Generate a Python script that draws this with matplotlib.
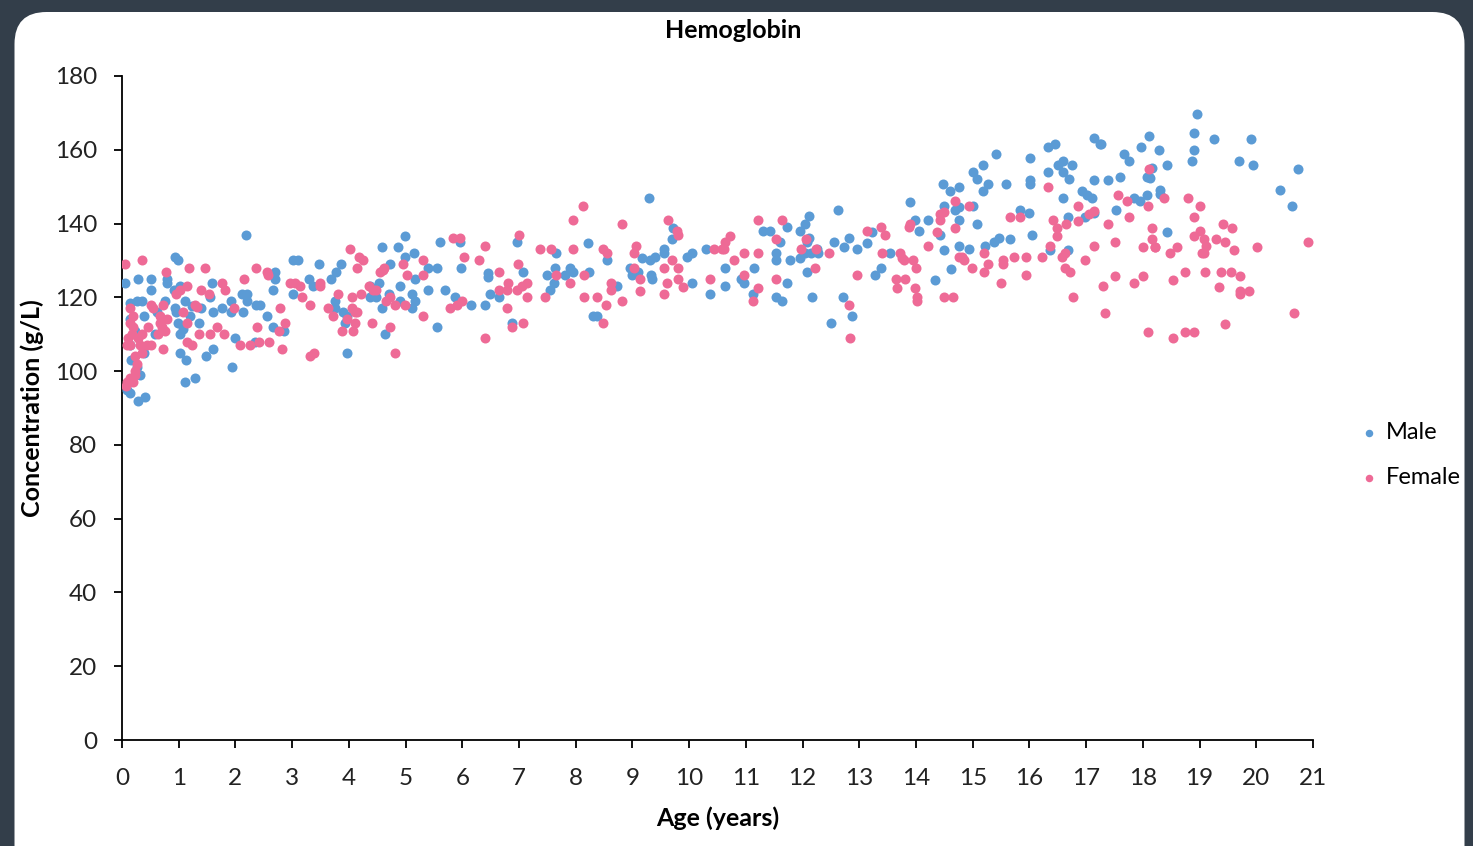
import matplotlib
matplotlib.use("Agg")
import matplotlib.pyplot as plt
from matplotlib.patches import FancyBboxPatch

plt.rcParams['font.family'] = ['Lato', 'DejaVu Sans']

# Hemoglobin readings (age in years, concentration in g/L)
male = [
    (2.19, 137), (0.94, 131), (0.99, 130), (0.05, 124), (0.28, 125), (0.52, 125), (0.79, 125), (0.8, 124),
    (0.51, 122), (0.92, 122), (1.02, 123), (1.59, 124), (3.02, 130), (3.11, 130), (3.48, 129), (3.29, 125),
    (3.36, 123), (3.02, 121), (0.14, 118.5), (0.26, 119), (0.35, 119), (0.39, 115), (0.61, 116), (0.76, 119),
    (0.94, 117), (0.96, 116), (1.11, 119), (1.23, 117.6), (1.2, 115), (0.99, 113), (1.08, 111.5), (1.02, 110),
    (1.35, 113), (1.4, 117), (1.55, 120), (1.61, 116), (1.76, 117), (1.93, 116), (1.93, 119), (2.11, 121),
    (2.2, 121), (2.14, 116), (2.2, 119), (2.37, 118), (2.43, 118), (2.55, 115), (2.66, 112), (2.7, 127),
    (2.7, 125), (2.67, 122), (0.14, 114), (0.14, 107), (0.23, 111), (0.38, 105), (0.58, 110), (0.16, 103),
    (0.26, 101), (0.32, 99), (0.08, 95), (0.14, 94), (0.28, 92), (0.41, 93), (1.02, 105), (1.13, 103),
    (1.11, 97), (1.29, 98), (1.48, 104), (1.61, 106), (1.94, 101), (1.99, 109), (2.35, 108), (2.85, 111),
    (4.99, 136.6), (4.58, 133.7), (4.87, 133.7), (5.14, 132), (4.99, 131), (4.72, 129), (5.61, 135), (5.96, 135),
    (5.55, 128), (5.40, 128), (5.97, 128), (6.46, 126.5), (6.46, 125.6), (6.96, 135), (3.77, 127), (3.86, 129),
    (3.68, 125), (4.37, 123), (4.54, 124), (4.9, 123), (5.17, 125), (4.71, 121), (4.37, 120), (4.48, 120),
    (4.91, 119), (5.12, 121), (5.17, 119), (5.12, 117), (5.39, 122), (5.70, 122), (5.87, 120), (6.15, 118),
    (6.4, 118), (6.49, 121), (6.64, 120), (3.76, 119), (3.76, 117), (3.9, 116), (3.96, 115), (3.93, 113),
    (4.58, 117), (4.64, 110), (3.97, 105), (5.55, 112), (6.87, 113),
    (9.29, 146.8), (8.22, 134.8), (9.71, 138.7), (9.69, 135.8), (7.65, 132), (7.07, 127), (7.49, 126), (7.64, 128),
    (7.62, 124), (7.54, 122), (7.81, 126), (7.9, 128), (7.96, 127), (8.24, 127), (8.56, 130), (8.73, 123),
    (8.95, 128), (9.0, 126), (9.1, 127), (9.16, 130.6), (9.31, 130), (9.4, 131), (9.56, 133), (9.56, 132),
    (9.32, 126), (9.35, 125), (9.96, 131), (10.05, 132), (10.3, 133), (10.05, 124), (10.37, 121), (8.31, 115),
    (8.37, 115),
    (13.9, 145.9), (12.63, 143.8), (12.11, 142), (12.04, 140), (11.95, 138), (11.31, 138), (11.42, 138), (11.72, 139),
    (11.61, 135), (12.12, 136), (12.07, 135), (12.55, 135), (12.81, 136), (12.73, 133.7), (12.96, 133), (13.13, 134.6),
    (13.22, 137.8), (13.98, 141), (14.06, 138), (13.54, 132), (13.38, 128), (13.28, 126), (12.14, 132), (12.25, 133),
    (12.28, 132), (11.95, 130.6), (12.04, 132), (11.53, 132), (11.53, 130), (11.78, 130), (12.07, 127), (10.64, 128),
    (11.15, 128), (10.91, 125), (10.97, 124), (11.73, 124), (10.64, 123), (11.12, 121), (11.53, 120), (11.63, 119),
    (12.16, 120), (12.72, 120), (12.87, 115), (12.5, 113),
    (17.13, 163.1), (17.24, 161.7), (17.27, 161.5), (16.33, 160.8), (16.45, 161.5), (15.41, 158.8), (16.01, 157.9),
    (15.18, 155.9), (15.0, 153.9), (15.08, 152.1), (16.59, 157), (16.5, 155.9), (16.75, 155.9), (16.33, 153.9),
    (16.6, 153.9), (16.69, 152.1), (14.48, 150.7), (14.6, 148.9), (14.75, 149.8), (15.27, 150.7), (15.18, 148.9),
    (15.59, 150.7), (16.01, 151.8), (16.01, 150.7), (17.13, 151.8), (17.38, 151.8), (16.92, 148.9), (17.01, 147.7),
    (17.1, 146.8), (16.59, 146.8), (14.5, 144.7), (14.69, 143.8), (14.75, 144.5), (15.0, 144.7), (15.84, 143.8),
    (16.0, 142.9), (14.22, 141), (14.75, 141), (15.08, 140), (14.43, 137), (16.68, 141.8), (16.98, 141.8),
    (17.13, 142.9), (16.05, 137), (15.66, 135.7), (15.46, 136), (15.37, 135), (15.22, 134), (14.75, 134),
    (14.93, 133), (14.5, 132.8), (16.68, 132.8), (16.37, 132.8), (14.61, 127.8), (14.34, 124.7),
    (18.96, 169.7), (18.9, 164.6), (18.11, 163.8), (19.25, 162.8), (19.91, 162.8), (17.97, 160.8), (18.28, 159.9),
    (18.9, 159.9), (17.67, 158.9), (17.76, 157), (18.42, 155.9), (18.86, 157), (19.69, 157), (19.95, 155.8),
    (20.74, 154.9), (17.59, 152.7), (18.07, 152.7), (18.13, 152.3), (18.16, 155), (18.11, 152.5), (18.31, 149),
    (18.31, 148), (20.41, 149), (20.63, 144.7), (18.07, 147.7), (17.84, 147), (17.95, 146), (17.53, 143.8),
    (18.42, 137.7),
]

female = [
    (0.05, 129), (0.35, 130), (0.78, 127), (1.18, 128), (1.46, 128), (0.95, 121), (1.02, 122), (1.14, 123),
    (1.39, 122), (1.53, 121), (1.77, 124), (1.82, 122), (2.15, 125), (2.36, 128), (2.55, 127), (2.58, 126),
    (2.96, 124), (3.05, 124), (3.14, 123), (3.18, 120), (3.32, 118), (3.49, 123), (3.32, 104), (3.39, 105),
    (1.29, 118), (1.33, 117.5), (0.52, 118), (0.55, 117), (1.07, 116), (0.73, 118), (0.67, 115), (1.98, 117),
    (2.79, 117), (2.87, 113), (2.76, 111), (2.38, 112), (1.67, 112), (1.79, 110), (1.55, 110), (1.35, 110),
    (1.14, 108), (1.23, 107), (1.14, 113), (0.7, 112), (0.76, 111), (0.64, 110), (0.79, 114), (0.67, 113),
    (0.46, 112), (0.52, 107), (0.44, 107), (0.14, 117), (0.2, 115), (0.14, 113), (0.2, 112), (0.17, 110),
    (0.11, 109), (0.29, 109), (0.35, 110), (0.32, 107), (0.08, 107), (0.14, 107), (0.23, 104), (0.35, 105),
    (0.26, 102), (0.23, 100), (0.14, 98), (0.08, 97), (0.07, 96), (0.2, 97), (0.23, 99), (0.73, 106),
    (2.08, 107), (2.26, 107), (2.42, 108), (2.6, 108), (2.82, 106),
    (4.02, 133), (4.18, 131), (4.25, 130), (4.14, 128), (4.6, 127.5), (4.62, 128), (4.55, 127), (4.95, 129),
    (5.3, 130), (5.02, 126), (5.3, 126), (5.83, 136), (5.96, 136), (6.03, 131), (6.4, 134), (6.3, 130),
    (6.64, 127), (6.81, 124), (6.65, 122), (6.78, 122), (6.96, 122), (7.0, 137), (6.99, 129), (3.49, 124),
    (3.81, 121), (4.05, 120), (4.21, 121), (4.36, 123), (4.43, 122), (4.48, 122), (4.65, 119), (4.72, 120),
    (4.81, 118), (4.99, 118), (3.64, 117), (3.72, 115), (4.05, 117), (4.11, 116), (4.15, 116), (3.96, 114),
    (4.11, 113), (3.88, 111), (4.07, 111), (4.4, 113), (4.72, 112), (5.3, 115), (5.78, 117), (5.9, 118),
    (5.99, 119), (6.78, 117), (6.87, 112), (6.4, 109), (4.81, 105),
    (8.12, 144.8), (7.95, 141), (8.81, 140), (9.63, 141), (9.78, 138), (9.81, 137), (7.37, 133), (7.56, 133),
    (7.95, 133), (8.48, 133), (8.56, 132), (9.06, 134), (9.03, 132), (9.69, 130), (9.56, 128), (9.81, 128),
    (7.65, 126), (8.15, 126), (7.9, 124), (9.03, 128), (8.63, 124), (8.63, 122), (9.13, 125), (9.61, 124),
    (9.81, 125), (9.89, 122.8), (10.37, 125), (10.44, 133), (7.05, 123), (7.14, 124), (7.14, 120), (7.46, 120),
    (9.13, 121.7), (9.56, 121), (8.15, 120), (8.38, 120), (8.53, 118), (8.81, 119), (8.48, 113), (7.07, 113),
    (11.22, 141), (11.63, 141), (11.54, 135.8), (12.06, 135.8), (11.98, 133), (12.23, 133), (12.47, 132),
    (13.13, 138), (13.38, 139), (13.45, 137), (13.9, 140), (13.88, 139), (10.72, 136.5), (10.63, 135),
    (10.58, 133), (10.62, 133), (10.96, 132), (11.22, 132), (10.79, 130), (13.4, 132), (13.72, 132),
    (13.75, 130.6), (13.78, 130), (13.95, 130), (14.0, 128), (12.22, 128), (12.96, 126), (13.65, 125),
    (13.81, 125), (10.97, 126), (11.53, 125), (11.21, 122.6), (11.13, 119), (13.67, 122.6), (13.98, 122.6),
    (14.01, 120), (14.02, 119), (12.81, 118), (12.83, 109),
    (16.33, 150), (14.68, 146), (14.93, 144.7), (14.43, 142.6), (14.49, 143), (14.42, 141), (14.37, 137.7),
    (14.68, 138.7), (15.66, 141.7), (15.84, 141.7), (16.85, 144.7), (17.05, 142.6), (17.13, 143.5), (16.41, 141),
    (16.48, 138.7), (16.48, 136.6), (16.64, 140), (16.85, 140.8), (16.37, 134), (17.39, 140), (14.22, 134),
    (14.75, 131), (14.84, 130), (14.81, 131), (14.99, 128), (15.2, 132), (15.27, 129), (15.2, 127), (15.53, 130),
    (15.53, 129), (15.73, 131), (15.94, 131), (16.22, 131), (15.49, 124), (15.94, 126), (16.62, 132),
    (16.58, 131), (16.63, 128), (16.72, 127), (16.98, 130), (17.13, 133.8), (14.5, 120), (14.66, 120),
    (16.76, 120), (17.3, 123), (17.34, 115.8),
    (18.1, 154.9), (17.57, 147.7), (17.72, 146), (18.09, 144.7), (18.37, 146.8), (18.79, 146.8), (19.0, 144.7),
    (18.9, 141.8), (17.76, 141.8), (18.16, 138.9), (18.16, 135.8), (18.21, 133.7), (19.0, 138), (18.9, 136.7),
    (19.07, 135.8), (19.11, 133.9), (19.04, 131.9), (19.07, 131.9), (19.41, 139.9), (19.58, 138.9),
    (19.29, 135.8), (19.44, 134.9), (19.6, 132.8), (17.51, 134.9), (18.01, 133.7), (18.22, 133.7),
    (18.61, 133.7), (18.47, 131.9), (20.02, 133.7), (20.91, 134.9), (17.51, 125.9), (18.01, 125.9),
    (17.84, 123.8), (18.54, 124.7), (18.75, 126.8), (19.09, 126.8), (19.37, 126.8), (19.55, 126.8),
    (19.71, 125.9), (19.34, 122.9), (19.71, 121.8), (19.71, 121), (19.88, 121.8), (18.09, 110.7),
    (18.53, 108.9), (18.75, 110.7), (18.9, 110.7), (19.44, 112.7), (20.67, 115.8),
]

x_ticks = list(range(0, 22))
y_ticks = list(range(0, 181, 20))

W, H = 1473, 846
fig = plt.figure(figsize=(W / 100, H / 100), dpi=100)
fig.patch.set_facecolor('#333e4a')

# white rounded panel on the dark frame
panel = FancyBboxPatch((0.145, -0.4), 14.5, 8.74,
                       boxstyle="round,pad=0,rounding_size=0.32",
                       transform=fig.dpi_scale_trans,
                       facecolor='white', edgecolor='none', zorder=0)
fig.add_artist(panel)

ax = fig.add_axes([122 / W, 1 - 740 / H, (1313 - 122) / W, (740 - 76) / H])
ax.set_facecolor('none')

mx, my = zip(*male)
fx, fy = zip(*female)
ax.scatter(mx, my, s=52, color='#5b9bd5', linewidths=0, label='Male', zorder=3)
ax.scatter(fx, fy, s=52, color='#ee6a96', linewidths=0, label='Female', zorder=3)

ax.set_xlim(0, 21)
ax.set_ylim(0, 180)
ax.set_xticks(x_ticks)
ax.set_yticks(y_ticks)
for s in ['top', 'right']:
    ax.spines[s].set_visible(False)
for s in ['left', 'bottom']:
    ax.spines[s].set_color('black')
    ax.spines[s].set_linewidth(1.3)
ax.tick_params(axis='both', direction='out', length=6, width=1.3,
               labelsize=17.5, colors='black', labelcolor='#222222')
ax.tick_params(axis='x', pad=14)
ax.tick_params(axis='y', pad=12)

ax.set_xlabel('Age (years)', fontsize=18, fontweight='bold', labelpad=13)
ax.set_ylabel('Concentration (g/L)', fontsize=18, fontweight='bold', labelpad=8)
fig.text(0.498, 1 - 30 / H, 'Hemoglobin', ha='center', va='center',
         fontsize=18, fontweight='bold')

ax.legend(loc='center left', bbox_to_anchor=(1350 / W, 1 - 455 / H),
          bbox_transform=fig.transFigure, frameon=False, fontsize=17,
          handlelength=0.6, handletextpad=0.4, labelspacing=1.0,
          markerscale=0.75, borderpad=0)

fig.savefig('out.png', dpi=100, facecolor=fig.get_facecolor())
